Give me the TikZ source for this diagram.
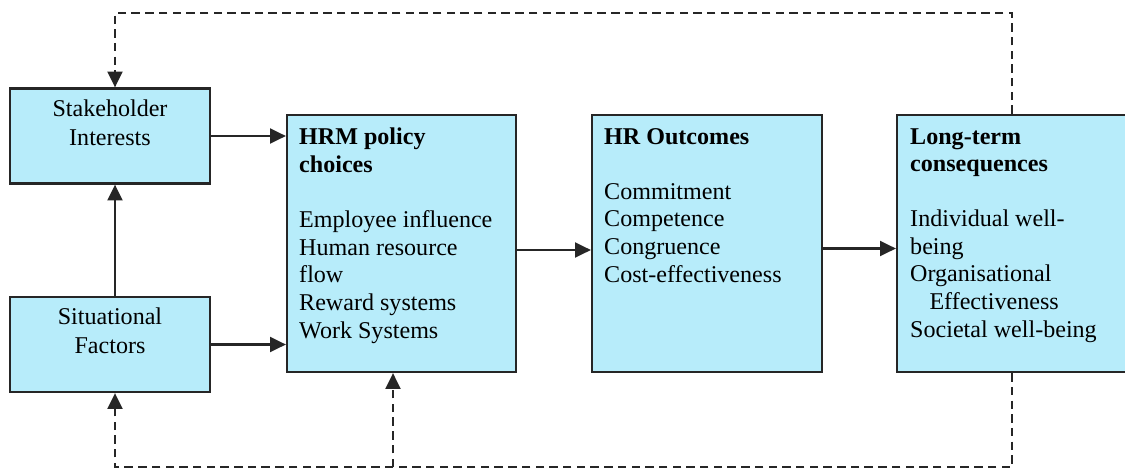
\documentclass[tikz,border=0pt]{standalone}
\usepackage{fontspec}
\setmainfont{Liberation Serif}
\usetikzlibrary{arrows.meta,positioning}
\definecolor{boxfill}{RGB}{183,236,250}

\begin{document}
\begin{tikzpicture}[
  x=0.02cm, y=-0.02cm,
  font=\fontsize{13.7pt}{15.7pt}\selectfont,
  box/.style={draw=black!85, fill=boxfill, line width=1.3pt, inner sep=0pt,
              minimum width=#1, minimum height=5.14cm},
  box/.default=4.6cm,
  sidebox/.style={box=4cm, minimum height=1.9cm},
  txt/.style={inner sep=0pt, align=left, anchor=north west},
  sidetxt/.style={inner sep=0pt, align=center, anchor=north,
                  font=\fontsize{13.7pt}{16.4pt}\selectfont},
  arr/.style={-{Triangle[length=9pt,width=8.5pt]}, line width=1.3pt, draw=black!85},
  fb/.style={dash pattern=on 4.8pt off 3pt, line width=1.4pt, draw=black!85}]
 \useasboundingbox (0,0) rectangle (1125,470);
 % the five boxes
 \node[sidebox] (sh) at (110,136) {};
 \node[sidebox] (sf) at (110,344.5) {};
 \node[box=4.58cm] (hrm) at (401.5,243.5) {};
 \node[box] (out) at (707,243.5) {};
 \node[box] (ltc) at (1012,243.5) {};
 % their texts
 \node[sidetxt] (shtxt) at ([shift={(0,12)}]sh.north) {Stakeholder\\Interests};
 \node[sidetxt] (sftxt) at ([shift={(0,12)}]sf.north) {Situational\\Factors};
 \node[txt] (hrmtxt) at ([shift={(13,14)}]hrm.north west)
      {\textbf{HRM policy}\\\textbf{choices}\\[15.7pt]
       Employee influence\\Human resource\\flow\\Reward systems\\Work Systems};
 \node[txt] (outtxt) at ([shift={(13,14)}]out.north west)
      {\textbf{HR Outcomes}\\[15.7pt]
       Commitment\\Competence\\Congruence\\Cost-effectiveness};
 \node[txt] (ltctxt) at ([shift={(14,14)}]ltc.north west)
      {\textbf{Long-term}\\\textbf{consequences}\\[15.7pt]
       Individual well-\\being\\Organisational\\\hspace*{0.8em}Effectiveness\\Societal well-being};
 % main flow
 \coordinate (lx) at (115,0);
 \coordinate (hx) at (393,0);
 \coordinate (top) at (0,13);
 \coordinate (bot) at (0,467);
 \draw[arr] (sh.east) -- (sh.east -| hrm.west);
 \draw[arr] (sf.east) -- (sf.east -| hrm.west);
 \draw[arr] (sf.north -| lx) -- (sh.south -| lx);
 \draw[arr] ([yshift=-0.13cm]hrm.east) -- ([yshift=-0.13cm]out.west);
 \draw[arr] ([yshift=-0.1cm]out.east) -- ([yshift=-0.1cm]ltc.west);
 % feedback loops
 \draw[fb, arr] (ltc.north) -- (ltc.north |- top) -| (sh.north -| lx);
 \draw[fb, arr] (ltc.south) |- (bot -| lx) -- (sf.south -| lx);
 \draw[fb, arr] (bot -| hx) -- (hrm.south -| hx);
\end{tikzpicture}
\end{document}
